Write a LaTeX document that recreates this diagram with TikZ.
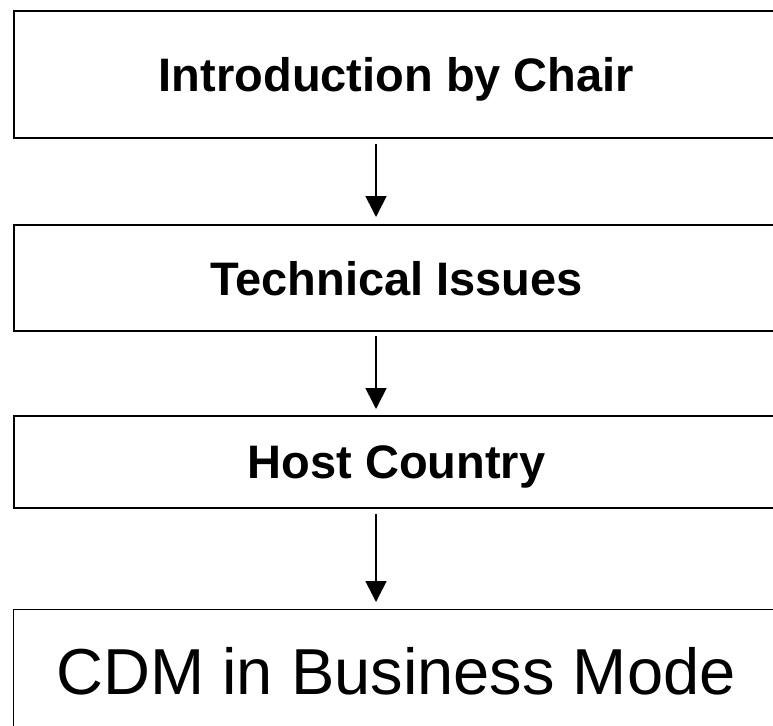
\documentclass[tikz,border=0pt]{standalone}
\usepackage{fontspec}
\setmainfont{Liberation Sans}
\usetikzlibrary{arrows.meta}
\begin{document}
\begin{tikzpicture}[x=1pt,y=-1pt,
  box/.style={draw=black, line width=2pt, rectangle, inner sep=0pt, anchor=north west, text depth=0pt},
  titlebox/.style={box, font=\fontsize{47}{56}\selectfont\bfseries},
  bigbox/.style={draw=black, line width=1.2pt, rectangle, inner sep=0pt, anchor=north west, text depth=0pt, font=\fontsize{65}{78}\selectfont},
  arr/.style={line width=1.6pt, -{Triangle[width=21pt,length=21pt]}}]
\useasboundingbox (0,0) rectangle (773,725);
\node[titlebox, minimum width=765pt, minimum height=127pt] (b1) at (13,10) {Introduction by Chair};
\node[titlebox, minimum width=765pt, minimum height=106pt] (b2) at (13,224) {Technical Issues};
\node[titlebox, minimum width=765pt, minimum height=92pt] (b3) at (13,415) {Host Country};
\node[bigbox, minimum width=765pt, minimum height=122pt] (b4) at (13,609) {CDM in Business Mode};
\coordinate (ax) at (376,0);
\draw[arr] (b1.south -| ax) ++(0,5) -- ([yshift=7pt]b2.north -| ax);
\draw[arr] (b2.south -| ax) ++(0,4) -- ([yshift=6pt]b3.north -| ax);
\draw[arr] (b3.south -| ax) ++(0,5) -- ([yshift=7pt]b4.north -| ax);
\end{tikzpicture}
\end{document}
